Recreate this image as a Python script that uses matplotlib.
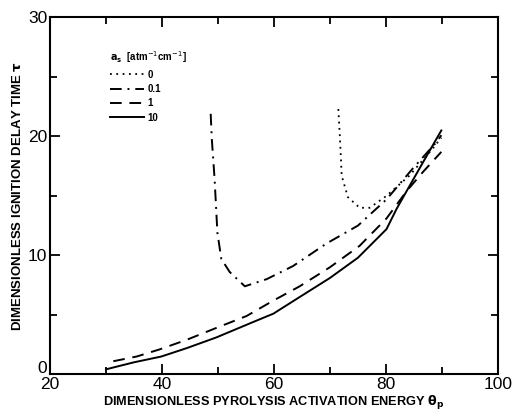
import matplotlib
matplotlib.use("Agg")
import matplotlib.pyplot as plt
import matplotlib.transforms as mtransforms
from matplotlib.ticker import MultipleLocator

# Data
x_a0 = [71.5, 71.8, 72.1, 73.2, 75.3, 77.1, 80.1, 84.2, 88.4, 89.9]
y_a0 = [22.3, 19.8, 16.7, 14.9, 14.0, 14.0, 15.0, 16.7, 19.0, 19.9]

x_a01 = [48.7, 48.9, 49.4, 49.9, 50.6, 52.1, 54.8, 58.7, 63.4, 69.4, 75.0, 80.1, 84.8, 89.0, 89.9]
y_a01 = [21.9, 19.8, 16.4, 11.9, 9.7, 8.6, 7.4, 8.0, 9.1, 11.0, 12.5, 14.7, 17.3, 19.5, 20.1]

x_a1 = [31.3, 35.5, 39.6, 44.4, 49.7, 55.1, 59.9, 64.6, 70.0, 75.3, 80.1, 83.7, 86.6, 89.9]
y_a1 = [1.1, 1.5, 2.1, 2.9, 3.9, 4.9, 6.2, 7.4, 9.0, 10.8, 13.1, 15.4, 17.0, 18.7]

x_a10 = [30.0, 34.9, 39.9, 44.4, 49.7, 56.3, 59.9, 64.6, 70.0, 75.0, 80.1, 81.9, 83.7, 86.6, 89.9]
y_a10 = [0.42, 1.0, 1.5, 2.2, 3.1, 4.4, 5.1, 6.5, 8.1, 9.8, 12.2, 13.9, 15.4, 17.8, 20.5]

labels = ["0", "0.1", "1", "10"]
xticks = [20, 40, 60, 80, 100]
yticks = [0, 10, 20, 30]

plt.rcParams['font.family'] = ['Liberation Sans', 'DejaVu Sans']

fig = plt.figure(figsize=(5.13, 4.15), dpi=100)
ax = fig.add_axes([0.0975, 0.098, 0.873, 0.860])

lw = 1.4
l0, = ax.plot(x_a0, y_a0, color='black', lw=1.3, linestyle=(0, (1, 2.5)))
l1, = ax.plot(x_a01, y_a01, color='black', lw=lw, linestyle=(0, (6, 3, 1, 3)))
l2, = ax.plot(x_a1, y_a1, color='black', lw=lw, linestyle=(0, (6, 4)))
l3, = ax.plot(x_a10, y_a10, color='black', lw=lw, linestyle='-')

ax.set_xlim(20, 100)
ax.set_ylim(0, 30)
ax.set_xticks(xticks)
ax.set_yticks(yticks)
ax.xaxis.set_minor_locator(MultipleLocator(10))
ax.yaxis.set_minor_locator(MultipleLocator(5))
ax.tick_params(which='both', direction='in', top=True, right=True, width=1.3)
ax.tick_params(which='major', length=7, labelsize=12.5)
ax.tick_params(axis='x', which='major', pad=2)
ax.tick_params(axis='y', which='major', pad=2)
ax.tick_params(which='minor', length=5)
for s in ax.spines.values():
    s.set_linewidth(1.5)

# nudge the y "0" label up a little so it does not collide with x "20"
fig.canvas.draw()
ylab0 = ax.get_yticklabels()[0]
ylab0.set_transform(ylab0.get_transform() +
                    mtransforms.ScaledTranslation(0, 7 / 100, fig.dpi_scale_trans))

ax.set_xlabel(r"DIMENSIONLESS PYROLYSIS ACTIVATION ENERGY $\mathbf{\theta_p}$",
              fontsize=9.2, fontweight='bold')
ax.xaxis.set_label_coords(0.5, -0.056)
ax.set_ylabel(r"DIMENSIONLESS IGNITION DELAY TIME $\mathbf{\tau}$",
              fontsize=9.5, fontweight='bold', labelpad=3)

leg = ax.legend([l0, l1, l2, l3], labels, loc='upper left',
                bbox_to_anchor=(0.115, 0.935), frameon=False,
                title=r"$\mathbf{a_s}$  [atm$^{-1}$cm$^{-1}$]",
                fontsize=7, title_fontsize=7, handlelength=3.5,
                handletextpad=0.3, labelspacing=0.45, alignment='left')
leg.get_title().set_fontweight('bold')
for t in leg.get_texts():
    t.set_fontweight('bold')

fig.savefig("out.png", dpi=100)
